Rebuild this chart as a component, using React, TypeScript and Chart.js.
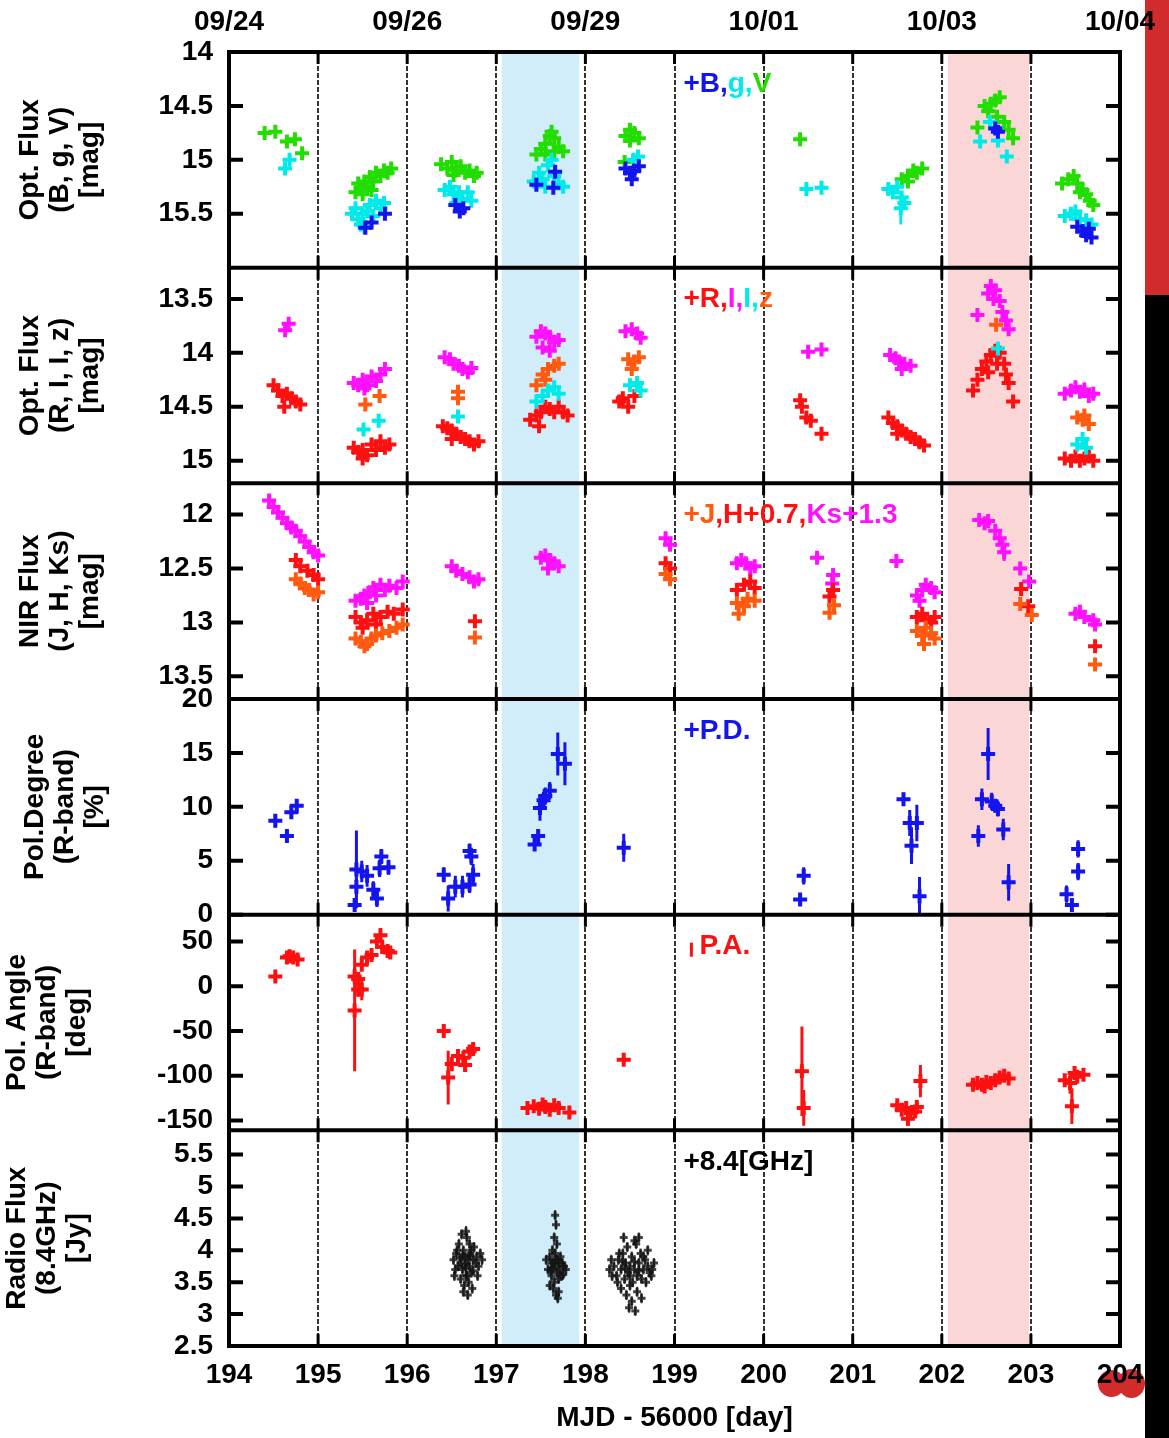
import { useEffect, useRef } from "react";
import { Chart, registerables } from "chart.js";

Chart.register(...registerables);

const FONT = '"Liberation Sans", Arial, sans-serif';

// ---- colours ----
const BLUE = "#1414ee";
const CYAN = "#00eaea";
const GREEN = "#22dd00";
const RED = "#ff1010";
const MAGENTA = "#ff10ff";
const ORANGE = "#ff5a10";
const BLACK = "#000000";

// ---- x axis ----
const xMin = 194;
const xMax = 204;
const dateTickValues = [194, 196, 198, 200, 202, 204];
const dateTickLabels = ["09/24", "09/26", "09/29", "10/01", "10/03", "10/04"];
const shadedBlue = [197.06, 197.93];
const shadedPink = [202.07, 202.98];

// ---- panel 1: optical B, g, V [mag] ----
const magB = [
  [195.53, 15.63], [195.75, 15.5], [195.6, 15.58],
  [196.54, 15.42], [196.59, 15.48], [196.63, 15.45],
  [197.45, 15.23], [197.66, 15.11], [197.64, 15.26],
  [198.45, 15.08], [198.5, 15.12], [198.55, 15.1], [198.6, 15.06], [198.52, 15.18],
  [202.6, 14.71], [202.63, 14.74],
  [203.52, 15.62], [203.58, 15.66], [203.62, 15.7], [203.68, 15.72], [203.65, 15.64],
];
const magGband = [
  [194.63, 15.08], [194.68, 15.0],
  [195.38, 15.5], [195.42, 15.45], [195.45, 15.55], [195.48, 15.6], [195.5, 15.5], [195.52, 15.62],
  [195.55, 15.48], [195.58, 15.42], [195.62, 15.52], [195.65, 15.38], [195.7, 15.45], [195.74, 15.4],
  [196.42, 15.28], [196.48, 15.25], [196.52, 15.32], [196.55, 15.4], [196.58, 15.3], [196.62, 15.36],
  [196.68, 15.3], [196.72, 15.38],
  [197.42, 15.2], [197.48, 15.12], [197.52, 15.18], [197.55, 15.25], [197.58, 15.05], [197.62, 15.0],
  [197.65, 15.15], [197.7, 15.22], [197.75, 15.25],
  [198.54, 15.0], [198.59, 14.97],
  [200.48, 15.27], [200.65, 15.26],
  [201.4, 15.27], [201.45, 15.3], [201.5, 15.25], [201.54, 15.45, 0.15], [201.55, 15.35], [201.58, 15.4],
  [202.43, 14.83], [202.54, 14.65], [202.6, 14.7], [202.63, 14.82], [202.73, 14.97],
  [203.38, 15.52], [203.45, 15.5], [203.5, 15.48], [203.55, 15.55], [203.62, 15.56], [203.68, 15.6],
];
const magV = [
  [194.4, 14.75], [194.52, 14.74], [194.65, 14.83], [194.74, 14.81], [194.82, 14.94],
  [195.42, 15.3], [195.45, 15.22], [195.48, 15.27], [195.5, 15.32], [195.52, 15.2], [195.55, 15.25],
  [195.58, 15.16], [195.6, 15.28], [195.62, 15.2], [195.65, 15.12], [195.7, 15.15], [195.74, 15.1],
  [195.78, 15.12], [195.82, 15.08],
  [196.38, 15.04], [196.45, 15.08], [196.5, 15.02], [196.52, 15.14], [196.55, 15.1], [196.6, 15.06],
  [196.65, 15.12], [196.7, 15.1], [196.75, 15.15], [196.78, 15.12],
  [197.45, 14.95], [197.5, 14.9], [197.55, 14.85], [197.55, 14.95], [197.6, 14.78], [197.62, 14.74],
  [197.65, 14.8], [197.65, 14.92], [197.7, 14.88], [197.75, 14.92],
  [198.44, 15.02], [198.45, 14.78], [198.5, 14.72], [198.5, 14.82], [198.55, 14.75], [198.6, 14.8],
  [200.41, 14.81],
  [201.55, 15.18], [201.62, 15.15], [201.62, 15.2], [201.68, 15.1], [201.72, 15.12], [201.78, 15.08],
  [202.4, 14.7], [202.48, 14.5], [202.52, 14.55], [202.55, 14.48], [202.6, 14.45], [202.62, 14.6],
  [202.65, 14.42], [202.7, 14.65], [202.75, 14.72], [202.8, 14.8],
  [203.35, 15.22], [203.42, 15.18], [203.48, 15.15], [203.52, 15.22], [203.55, 15.3], [203.58, 15.28],
  [203.62, 15.32], [203.66, 15.38], [203.7, 15.42],
];

// ---- panel 2: optical R, I, I, z [mag] ----
const magR = [
  [194.5, 14.3], [194.55, 14.35], [194.6, 14.4], [194.62, 14.5], [194.65, 14.38], [194.7, 14.42],
  [194.75, 14.45], [194.8, 14.48],
  [195.4, 14.88], [195.45, 14.92], [195.5, 14.9], [195.5, 14.98], [195.55, 14.95], [195.6, 14.85],
  [195.65, 14.9], [195.7, 14.82], [195.75, 14.88], [195.8, 14.85],
  [196.4, 14.68], [196.45, 14.7], [196.5, 14.72], [196.5, 14.8], [196.55, 14.75], [196.6, 14.78],
  [196.65, 14.8], [196.7, 14.82], [196.75, 14.85], [196.8, 14.82],
  [197.38, 14.62], [197.45, 14.58], [197.48, 14.68], [197.5, 14.55], [197.55, 14.5], [197.6, 14.52],
  [197.65, 14.55], [197.7, 14.5], [197.75, 14.55], [197.8, 14.58],
  [198.38, 14.45], [198.42, 14.42], [198.48, 14.5], [198.55, 14.4],
  [200.41, 14.44], [200.43, 14.5], [200.48, 14.6], [200.53, 14.63], [200.65, 14.75],
  [201.4, 14.6], [201.45, 14.65], [201.5, 14.68], [201.5, 14.75], [201.55, 14.72], [201.6, 14.75],
  [201.65, 14.78], [201.7, 14.8], [201.75, 14.83], [201.8, 14.86],
  [202.35, 14.35], [202.4, 14.25], [202.45, 14.15], [202.5, 14.08], [202.52, 14.18], [202.55, 14.02],
  [202.6, 13.98], [202.62, 14.1], [202.65, 14.0], [202.7, 14.1], [202.72, 14.2], [202.75, 14.28],
  [202.8, 14.45],
  [203.38, 14.98], [203.45, 15.0], [203.5, 14.96], [203.55, 15.0], [203.6, 14.98], [203.65, 14.96],
  [203.7, 15.0],
];
const magI = [
  [194.63, 13.79], [194.67, 13.73],
  [195.4, 14.28], [195.45, 14.3], [195.5, 14.25], [195.52, 14.33], [195.55, 14.3], [195.6, 14.22],
  [195.65, 14.26], [195.7, 14.2], [195.75, 14.15],
  [196.42, 14.04], [196.48, 14.06], [196.52, 14.1], [196.58, 14.12], [196.62, 14.15], [196.68, 14.18],
  [196.72, 14.14],
  [197.45, 13.85], [197.5, 13.8], [197.52, 13.95], [197.55, 13.82], [197.6, 13.85], [197.6, 13.98],
  [197.65, 13.9], [197.7, 13.88],
  [198.45, 13.8], [198.52, 13.78], [198.58, 13.82], [198.62, 13.86],
  [200.5, 13.99], [200.65, 13.97],
  [201.42, 14.02], [201.48, 14.05], [201.52, 14.08], [201.55, 14.15], [201.58, 14.1], [201.65, 14.12],
  [202.4, 13.65], [202.52, 13.45], [202.55, 13.38], [202.58, 13.5], [202.6, 13.42], [202.65, 13.52],
  [202.68, 13.62], [202.72, 13.7], [202.75, 13.78],
  [203.38, 14.38], [203.45, 14.35], [203.5, 14.32], [203.55, 14.36], [203.6, 14.34], [203.65, 14.4],
  [203.7, 14.38],
];
const magIsecond = [
  [195.51, 14.71], [195.68, 14.63],
  [196.57, 14.59],
  [197.45, 14.45], [197.52, 14.4], [197.58, 14.35], [197.65, 14.32], [197.7, 14.38],
  [198.5, 14.3], [198.58, 14.28], [198.62, 14.35],
  [202.63, 13.96],
  [203.52, 14.85], [203.58, 14.8], [203.62, 14.88],
];
const magZ = [
  [195.53, 14.48], [195.69, 14.4],
  [196.57, 14.36], [196.57, 14.42],
  [197.45, 14.3], [197.52, 14.2], [197.55, 14.25], [197.58, 14.15], [197.65, 14.12], [197.7, 14.1],
  [198.48, 14.06], [198.52, 14.15], [198.55, 14.08], [198.6, 14.04],
  [202.61, 13.74],
  [203.52, 14.6], [203.58, 14.62], [203.6, 14.58], [203.65, 14.66],
];

// ---- panel 3: NIR J, H+0.7, Ks+1.3 [mag] ----
const magJ = [
  [194.75, 12.6], [194.8, 12.64], [194.85, 12.68], [194.9, 12.7], [194.95, 12.74], [195.0, 12.72],
  [195.42, 13.15], [195.48, 13.18], [195.52, 13.22], [195.55, 13.2], [195.6, 13.15], [195.65, 13.12],
  [195.72, 13.1], [195.8, 13.08], [195.88, 13.05], [195.95, 13.02],
  [196.76, 13.14],
  [198.9, 12.55], [198.95, 12.6],
  [199.7, 12.82], [199.72, 12.92], [199.78, 12.85], [199.82, 12.78], [199.9, 12.8],
  [200.74, 12.91], [200.79, 12.84],
  [201.72, 13.08], [201.78, 13.12], [201.8, 13.2], [201.82, 13.05], [201.88, 13.1], [201.92, 13.15],
  [202.88, 12.83], [203.01, 12.93],
  [203.72, 13.39],
];
const magH = [
  [194.75, 12.42], [194.8, 12.48], [194.88, 12.52], [194.95, 12.56], [195.0, 12.6],
  [195.42, 12.95], [195.48, 13.0], [195.5, 13.05], [195.55, 12.98], [195.62, 12.92], [195.65, 13.02],
  [195.7, 12.95], [195.78, 12.9], [195.85, 12.92], [195.95, 12.88],
  [196.76, 12.99],
  [198.9, 12.45], [198.95, 12.5],
  [199.7, 12.7], [199.78, 12.65], [199.85, 12.62], [199.9, 12.68],
  [200.74, 12.76], [200.78, 12.7],
  [201.72, 12.95], [201.78, 12.92], [201.82, 12.98], [201.88, 13.0], [201.92, 12.95],
  [202.89, 12.69], [202.97, 12.85],
  [203.72, 13.22],
];
const magKs = [
  [194.45, 11.87], [194.5, 11.93], [194.55, 11.98], [194.6, 12.03], [194.65, 12.08], [194.7, 12.12],
  [194.75, 12.15], [194.8, 12.2], [194.85, 12.25], [194.9, 12.3], [194.95, 12.35], [195.0, 12.38],
  [195.42, 12.8], [195.48, 12.78], [195.52, 12.75], [195.55, 12.82], [195.58, 12.72], [195.62, 12.68],
  [195.65, 12.75], [195.7, 12.65], [195.75, 12.7], [195.8, 12.66], [195.88, 12.68], [195.95, 12.62],
  [196.5, 12.48], [196.55, 12.52], [196.62, 12.55], [196.7, 12.58], [196.75, 12.62], [196.8, 12.6],
  [197.5, 12.4], [197.55, 12.38], [197.58, 12.5], [197.6, 12.42], [197.65, 12.45], [197.7, 12.48],
  [198.9, 12.22], [198.95, 12.28],
  [199.7, 12.45], [199.75, 12.42], [199.8, 12.45], [199.85, 12.5], [199.9, 12.48],
  [200.6, 12.4], [200.77, 12.64], [200.78, 12.56],
  [201.49, 12.43],
  [201.72, 12.75], [201.75, 12.8], [201.78, 12.7], [201.82, 12.65], [201.88, 12.68], [201.92, 12.72],
  [202.42, 12.05], [202.48, 12.08], [202.52, 12.06], [202.6, 12.15], [202.65, 12.22], [202.68, 12.28],
  [202.7, 12.35, 0.08], [202.88, 12.5], [202.98, 12.62],
  [203.5, 12.92], [203.55, 12.9], [203.6, 12.95], [203.7, 12.98], [203.72, 13.02],
];

// ---- panel 4: polarization degree [%] (x, value, error) ----
const polDegree = [
  [194.52, 8.7, 0.6], [194.65, 7.3, 0.6], [194.7, 9.5, 0.6], [194.76, 10.1, 0.6],
  [195.41, 0.9, 0.5], [195.43, 4.2, 3.6], [195.43, 2.6, 0.8], [195.49, 4.0, 1.0], [195.55, 3.6, 1.0],
  [195.62, 2.3, 0.8], [195.66, 1.5, 0.8], [195.69, 4.3, 0.8], [195.71, 5.4, 0.7], [195.79, 4.4, 0.7],
  [196.41, 3.7, 0.7], [196.46, 1.5, 1.2], [196.54, 2.6, 1.0], [196.62, 2.6, 1.0], [196.7, 5.9, 0.7],
  [196.72, 5.4, 0.8], [196.74, 3.7, 1.0], [196.7, 2.8, 0.8],
  [197.43, 6.5, 0.6], [197.47, 7.3, 0.6], [197.49, 9.9, 1.2], [197.53, 10.6, 0.8], [197.55, 11.0, 0.8],
  [197.6, 11.5, 0.8], [197.69, 14.9, 2.0], [197.77, 14.0, 2.0],
  [198.43, 6.2, 1.3],
  [200.41, 1.4, 0.6], [200.45, 3.6, 0.8],
  [201.57, 10.7, 0.6], [201.64, 8.5, 1.2], [201.72, 8.5, 1.7], [201.66, 6.4, 1.7], [201.75, 1.7, 1.8],
  [202.41, 7.3, 1.0], [202.45, 10.7, 1.0], [202.52, 14.9, 2.4], [202.56, 10.5, 0.8], [202.6, 10.1, 0.6],
  [202.63, 9.8, 0.7], [202.69, 7.9, 1.0], [202.75, 3.0, 1.7],
  [203.4, 1.9, 0.8], [203.46, 0.9, 0.5], [203.53, 4.0, 0.8], [203.53, 6.1, 0.8],
];

// ---- panel 5: polarization angle [deg] (x, value, error) ----
const polAngle = [
  [194.52, 11, 4], [194.65, 32, 4], [194.68, 33.5, 4], [194.72, 32, 4], [194.77, 30, 4],
  [195.41, -27, 68], [195.41, 11, 10], [195.45, -3.6, 8], [195.49, -3.6, 12], [195.45, 8, 6],
  [195.49, 24, 6], [195.55, 32, 6], [195.6, 35, 5], [195.66, 50, 6], [195.7, 57, 8], [195.72, 44, 5],
  [195.78, 39.5, 5], [195.81, 37.6, 5],
  [196.41, -50, 6], [196.46, -102, 30], [196.5, -87, 8], [196.57, -78, 6], [196.63, -80, 6],
  [196.65, -88, 6], [196.7, -73, 5], [196.74, -70, 5],
  [197.35, -136, 4], [197.42, -134, 4], [197.48, -137, 4], [197.52, -132, 4], [197.55, -135, 4],
  [197.6, -138, 4], [197.65, -133, 4], [197.7, -136, 4], [197.82, -141, 4],
  [198.43, -82, 4],
  [200.43, -95, 50], [200.45, -136, 20],
  [201.5, -133, 4], [201.55, -138, 5], [201.6, -136, 5], [201.62, -148, 8], [201.65, -142, 5],
  [201.7, -140, 5], [201.72, -135, 5], [201.76, -106, 18],
  [202.35, -110, 4], [202.4, -108, 4], [202.45, -110, 4], [202.48, -112, 4], [202.5, -107, 4],
  [202.55, -108, 4], [202.6, -105, 4], [202.65, -102, 4], [202.7, -100, 4], [202.75, -103, 4],
  [203.38, -105, 5], [203.44, -108, 12], [203.46, -134, 20], [203.49, -97, 8], [203.52, -101, 5],
  [203.59, -99, 5],
];

// ---- panel 6: radio flux at 8.4 GHz [Jy] ----
const radioErr = 0.08;
const radioFlux = [
  [196.55, 3.95], [196.58, 4.1], [196.6, 3.8], [196.62, 3.7], [196.63, 4.0], [196.65, 3.9],
  [196.66, 3.6], [196.67, 4.2], [196.68, 3.85], [196.7, 3.75], [196.71, 3.95], [196.72, 3.65],
  [196.74, 3.85], [196.75, 4.05], [196.77, 3.8], [196.6, 3.55], [196.64, 3.45], [196.69, 3.5],
  [196.73, 3.4], [196.57, 3.75], [196.61, 4.25], [196.66, 4.3], [196.7, 4.1], [196.78, 3.9],
  [196.63, 3.35], [196.67, 3.6], [196.59, 3.88], [196.72, 4.0], [196.68, 3.3], [196.65, 3.78],
  [196.52, 3.85], [196.54, 3.7], [196.56, 4.0], [196.8, 3.75], [196.82, 3.95], [196.79, 3.6],
  [196.53, 3.6], [196.84, 3.85], [196.62, 3.9], [196.7, 3.92], [196.66, 3.72], [196.74, 3.68],
  [197.58, 3.7], [197.6, 3.9], [197.62, 3.6], [197.63, 4.0], [197.64, 3.8], [197.65, 4.2],
  [197.66, 3.75], [197.67, 4.4], [197.68, 3.65], [197.69, 3.85], [197.7, 3.55], [197.71, 3.7],
  [197.72, 3.9], [197.74, 3.8], [197.76, 3.75], [197.6, 3.45], [197.64, 3.4], [197.67, 3.3],
  [197.7, 3.35], [197.66, 4.55], [197.62, 3.8], [197.73, 3.6], [197.68, 4.1], [197.65, 3.5],
  [197.69, 3.25], [197.56, 3.85], [197.78, 3.7], [197.63, 3.72], [197.7, 3.8], [197.66, 3.95],
  [197.61, 3.68], [197.75, 3.62], [197.67, 3.85],
  [198.32, 3.75], [198.35, 3.6], [198.37, 3.85], [198.4, 3.7], [198.42, 3.95], [198.44, 3.55],
  [198.45, 3.8], [198.47, 4.05], [198.48, 3.65], [198.5, 3.75], [198.52, 3.9], [198.53, 3.5],
  [198.55, 3.7], [198.57, 4.1], [198.58, 3.6], [198.6, 3.8], [198.62, 3.95], [198.63, 3.55],
  [198.65, 3.7], [198.67, 3.85], [198.7, 3.75], [198.72, 3.65], [198.4, 3.4], [198.46, 3.3],
  [198.52, 3.2], [198.58, 3.35], [198.63, 3.25], [198.43, 4.2], [198.55, 4.15], [198.6, 4.2],
  [198.5, 3.45], [198.38, 3.95], [198.68, 3.5], [198.49, 3.1], [198.56, 3.05],
  [198.27, 3.7], [198.29, 3.85], [198.3, 3.6], [198.75, 3.7], [198.77, 3.8], [198.74, 3.6],
  [198.45, 3.72], [198.5, 3.6], [198.55, 3.82], [198.6, 3.68], [198.65, 3.9], [198.42, 3.82],
  [198.36, 3.5], [198.7, 4.0],
];

// ---- y axes: range, ticks, titles ----
const panelIds = ["y1", "y2", "y3", "y4", "y5", "y6"];
const panelMin = [14, 13.21, 11.71, 0, -161, 2.5];
const panelMax = [16, 15.21, 13.71, 20, 80, 5.88];
const panelReverse = [true, true, true, false, false, false];
const panelTicks = [
  [14, 14.5, 15, 15.5],
  [13.5, 14, 14.5, 15],
  [12, 12.5, 13, 13.5],
  [0, 5, 10, 15, 20],
  [50, 0, -50, -100, -150],
  [2.5, 3, 3.5, 4, 4.5, 5, 5.5],
];
const panelTitles = [
  ["Opt. Flux", "(B, g, V)", "[mag]"],
  ["Opt. Flux", "(R, I, I, z)", "[mag]"],
  ["NIR Flux", "(J, H, Ks)", "[mag]"],
  ["Pol.Degree", "(R-band)", "[%]"],
  ["Pol. Angle", "(R-band)", "[deg]"],
  ["Radio Flux", "(8.4GHz)", "[Jy]"],
];
const panelTitleOffset = [15, 15, 15, 20, 2, 2];

// in-panel keys: text runs with their colours
const panelKeys: [string, string][][] = [
  [["+B,", BLUE], ["g,", CYAN], ["V", GREEN]],
  [["+R,", RED], ["I,", MAGENTA], ["I,", CYAN], ["z", ORANGE]],
  [["+J", ORANGE], [",H+0.7,", RED], ["Ks+1.3", MAGENTA]],
  [["+P.D.", BLUE]],
  [["P.A.", RED]],
  [["+8.4[GHz]", BLACK]],
];
const keyX = 199.1;

const tickFont = { family: FONT, size: 28, weight: "bold" as const };

function series(points: number[][], color: string, yAxisID: string, extra: object = {}) {
  return {
    data: points.map((p) => ({ x: p[0], y: p[1] })),
    errors: points.map((p) => (p.length > 2 ? p[2] : 0)),
    yAxisID,
    xAxisID: "x",
    showLine: false,
    pointStyle: "cross",
    pointRadius: 7,
    pointHoverRadius: 7,
    pointBorderWidth: 4,
    borderColor: color,
    backgroundColor: color,
    ...extra,
  };
}

export default function App() {
  const ref = useRef<HTMLCanvasElement>(null);

  useEffect(() => {
    const canvas = ref.current;
    if (!canvas) return;

    const decor = {
      id: "panelDecor",
      beforeDatasetsDraw(chart: any) {
        const { ctx, chartArea } = chart;
        const xs = chart.scales.x;
        ctx.save();
        // shaded intervals
        const bands: [number[], string][] = [
          [shadedBlue, "#d0edf9"],
          [shadedPink, "#fbd6d6"],
        ];
        for (const [b, fill] of bands) {
          const l = xs.getPixelForValue(b[0]);
          const r = xs.getPixelForValue(b[1]);
          ctx.fillStyle = fill;
          ctx.fillRect(l, chartArea.top, r - l, chartArea.bottom - chartArea.top);
        }
        // error bars
        chart.data.datasets.forEach((ds: any, di: number) => {
          const errs: number[] = ds.errors || [];
          const meta = chart.getDatasetMeta(di);
          const ys = chart.scales[ds.yAxisID];
          ctx.save();
          ctx.beginPath();
          ctx.rect(chartArea.left, ys.top, chartArea.right - chartArea.left, ys.bottom - ys.top);
          ctx.clip();
          ctx.strokeStyle = ds.borderColor;
          ctx.lineWidth = ds.errWidth || 3;
          meta.data.forEach((pt: any, i: number) => {
            const e = errs[i];
            if (!e) return;
            const v = ds.data[i].y;
            ctx.beginPath();
            ctx.moveTo(pt.x, ys.getPixelForValue(v - e));
            ctx.lineTo(pt.x, ys.getPixelForValue(v + e));
            ctx.stroke();
          });
          ctx.restore();
        });
        ctx.restore();
      },
      afterDatasetsDraw(chart: any) {
        const { ctx, chartArea } = chart;
        const xs = chart.scales.x;
        const { left, right, top, bottom } = chartArea;
        ctx.save();
        ctx.strokeStyle = "#000";
        ctx.lineCap = "butt";
        panelIds.forEach((id, pi) => {
          const ys = chart.scales[id];
          // inward ticks on both y sides
          ctx.lineWidth = 4;
          for (const v of panelTicks[pi]) {
            const py = ys.getPixelForValue(v);
            ctx.beginPath();
            ctx.moveTo(left, py);
            ctx.lineTo(left + 14, py);
            ctx.moveTo(right - 14, py);
            ctx.lineTo(right, py);
            ctx.stroke();
          }
          // inward ticks at each day on panel top and bottom
          ctx.lineWidth = 3;
          for (let d = xMin; d <= xMax; d++) {
            const px = xs.getPixelForValue(d);
            ctx.beginPath();
            ctx.moveTo(px, ys.top);
            ctx.lineTo(px, ys.top + 12);
            ctx.moveTo(px, ys.bottom - 12);
            ctx.lineTo(px, ys.bottom);
            ctx.stroke();
          }
          // panel separators
          if (pi > 0) {
            ctx.lineWidth = 4;
            ctx.beginPath();
            ctx.moveTo(left, ys.top);
            ctx.lineTo(right, ys.top);
            ctx.stroke();
          }
          // panel key
          const keyY = ys.top + 32;
          let kx = xs.getPixelForValue(keyX);
          ctx.font = `bold 28px ${FONT}`;
          ctx.textBaseline = "middle";
          ctx.textAlign = "left";
          if (pi === 4) {
            ctx.strokeStyle = RED;
            ctx.lineWidth = 3;
            ctx.beginPath();
            ctx.moveTo(kx + 8, keyY - 4);
            ctx.lineTo(kx + 8, keyY + 10);
            ctx.stroke();
            ctx.strokeStyle = "#000";
            kx += 16;
          }
          for (const [txt, col] of panelKeys[pi]) {
            ctx.fillStyle = col;
            ctx.fillText(txt, kx, keyY);
            kx += ctx.measureText(txt).width;
          }
        });
        // outer frame
        ctx.lineWidth = 4;
        ctx.strokeStyle = "#000";
        ctx.strokeRect(left, top, right - left, bottom - top);
        ctx.restore();
      },
    };

    const yScales: Record<string, any> = {};
    panelIds.forEach((id, i) => {
      yScales[id] = {
        type: "linear",
        position: "left",
        stack: "panels",
        stackWeight: 1,
        weight: 6 - i,
        min: panelMin[i],
        max: panelMax[i],
        reverse: panelReverse[i],
        grid: { display: false, drawTicks: false },
        border: { display: false },
        ticks: {
          font: tickFont,
          color: "#000",
          padding: 16,
          autoSkip: false,
          callback: (v: number) => String(v),
        },
        afterBuildTicks: (s: any) => {
          s.ticks = panelTicks[i].map((v) => ({ value: v }));
        },
        afterFit: (s: any) => {
          s.width = 229;
        },
        title: {
          display: true,
          text: panelTitles[i],
          color: "#000",
          font: { family: FONT, size: 28, weight: "bold", lineHeight: 1.07 },
          padding: { top: panelTitleOffset[i], bottom: 0 },
        },
      };
    });

    const chart = new Chart(canvas, {
      type: "scatter",
      data: {
        datasets: [
          series(magB, BLUE, "y1"),
          series(magGband, CYAN, "y1"),
          series(magV, GREEN, "y1"),
          series(magIsecond, CYAN, "y2"),
          series(magZ, ORANGE, "y2"),
          series(magI, MAGENTA, "y2"),
          series(magR, RED, "y2"),
          series(magJ, ORANGE, "y3"),
          series(magH, RED, "y3"),
          series(magKs, MAGENTA, "y3"),
          series(polDegree, BLUE, "y4"),
          series(polAngle, RED, "y5"),
          series(
            radioFlux.map((p) => [p[0], p[1], radioErr]),
            "rgba(20,20,20,0.8)",
            "y6",
            { pointRadius: 4, pointHoverRadius: 4, pointBorderWidth: 3, errWidth: 2 }
          ),
        ] as any,
      },
      options: {
        responsive: false,
        animation: false,
        devicePixelRatio: 1,
        events: [],
        layout: { padding: { left: 0, right: 49, top: 0, bottom: 0 } },
        plugins: { legend: { display: false }, tooltip: { enabled: false } },
        scales: {
          x: {
            type: "linear",
            position: "bottom",
            min: xMin,
            max: xMax,
            grid: { color: "#333333", lineWidth: 2, drawTicks: false },
            border: { display: false, dash: [5, 2] },
            ticks: {
              stepSize: 1,
              font: tickFont,
              color: "#000",
              padding: 12,
              maxRotation: 0,
              autoSkip: false,
            },
            title: {
              display: true,
              text: "MJD - 56000 [day]",
              color: "#000",
              font: { family: FONT, size: 28, weight: "bold" },
              padding: { top: 0, bottom: 3 },
            },
            afterFit: (s: any) => {
              s.height = 92;
            },
          },
          x2: {
            type: "linear",
            position: "top",
            min: xMin,
            max: xMax,
            grid: { display: false, drawTicks: false },
            border: { display: false },
            ticks: {
              font: tickFont,
              color: "#000",
              padding: 13,
              maxRotation: 0,
              autoSkip: false,
              callback: (v: number) => {
                const k = dateTickValues.indexOf(v);
                return k >= 0 ? dateTickLabels[k] : "";
              },
            },
            afterBuildTicks: (s: any) => {
              s.ticks = dateTickValues.map((v) => ({ value: v }));
            },
            afterFit: (s: any) => {
              s.height = 52;
            },
          },
          ...yScales,
        } as any,
      },
      plugins: [decor],
    });
    return () => chart.destroy();
  }, []);

  return (
    <div
      style={{
        position: "absolute",
        left: 0,
        top: 0,
        width: 1169,
        height: 1438,
        background: "#fff",
        overflow: "hidden",
      }}
    >
      <div style={{ position: "absolute", left: 1145, top: 0, width: 24, height: 295, background: "#d22b2b" }} />
      <div style={{ position: "absolute", left: 1145, top: 295, width: 24, height: 1143, background: "#000" }} />
      <div
        style={{
          position: "absolute",
          left: 1098,
          top: 1370,
          width: 27,
          height: 27,
          borderRadius: "50%",
          background: "#d22b2b",
        }}
      />
      <div
        style={{
          position: "absolute",
          left: 1118,
          top: 1369,
          width: 27,
          height: 29,
          borderRadius: "50%",
          background: "#d22b2b",
        }}
      />
      <canvas ref={ref} width={1169} height={1438} style={{ position: "absolute", left: 0, top: 0 }} />
    </div>
  );
}
